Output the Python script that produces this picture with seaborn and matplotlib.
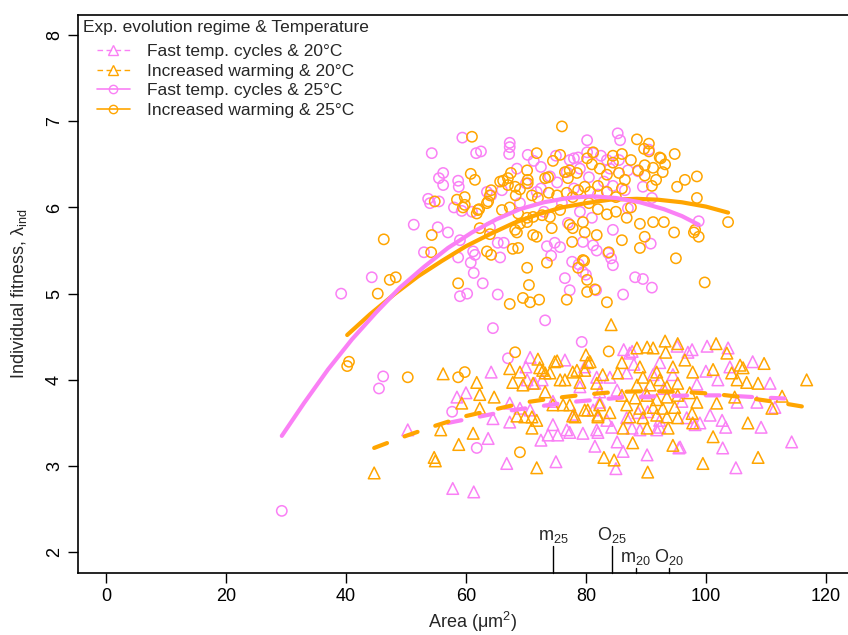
import numpy as np
import seaborn as sns
import matplotlib
matplotlib.use("Agg")
import matplotlib.pyplot as plt
from matplotlib.lines import Line2D
import matplotlib.transforms as mtransforms

# ---- data ----
ftc25_x = [29.3, 39.2, 44.3, 46.2, 45.5, 51.3, 53.0, 53.7, 54.0, 55.5, 54.3, 55.5, 56.2, 56.2, 58.7,
           58.8, 59.4, 58.0, 59.3, 61.0, 55.3, 57.0, 59.0, 58.7, 61.2, 61.5, 60.8, 61.3, 62.8, 59.0,
           60.2, 65.3, 64.5, 61.7, 62.5, 63.5, 64.2, 64.0, 65.3, 66.3, 65.7, 67.3, 67.3, 67.2, 67.0,
           57.7, 61.8, 70.3, 71.3, 72.5, 71.8, 73.2, 73.5, 74.2, 74.8, 75.7, 76.5, 77.3, 77.7, 78.8,
           79.5, 81.2, 81.8, 79.5, 80.0, 81.7, 79.3, 80.2, 80.2, 81.2, 77.3, 78.0, 78.7, 76.8, 75.2,
           85.3, 85.7, 82.5, 83.5, 84.0, 87.0, 88.7, 90.5, 89.5, 91.0, 87.0, 84.5, 83.7, 84.2, 84.5,
           90.8, 88.2, 89.5, 91.0, 86.2, 98.8, 70.0, 72.5, 74.0, 76.0, 78.0, 79.0, 80.5, 82.0, 83.0,
           84.5, 85.5, 86.5, 79.0, 81.0, 77.0, 73.0, 69.0, 66.0, 68.5, 75.0]
ftc25_y = [2.48, 5.00, 5.19, 4.04, 3.90, 5.80, 5.48, 6.10, 6.05, 6.07, 6.63, 6.34, 6.40, 6.26, 6.31,
           6.24, 6.81, 6.00, 5.96, 5.95, 5.77, 5.71, 5.62, 5.42, 5.49, 5.45, 5.36, 5.24, 5.12, 4.97,
           5.00, 4.99, 4.60, 6.63, 6.65, 6.18, 6.14, 5.77, 5.59, 5.59, 5.42, 6.75, 6.70, 6.62, 4.25,
           3.63, 3.21, 6.61, 6.54, 6.47, 6.18, 4.69, 5.55, 5.44, 5.59, 5.54, 5.18, 5.04, 5.37, 5.34,
           5.60, 5.56, 5.50, 5.25, 5.22, 5.04, 4.44, 6.78, 6.64, 6.63, 6.55, 6.57, 6.58, 6.41, 6.29,
           6.86, 6.78, 6.60, 6.55, 6.45, 6.43, 6.42, 6.67, 6.24, 6.11, 5.99, 5.74, 5.47, 5.41, 5.33,
           5.58, 5.19, 5.17, 5.07, 4.99, 5.84, 6.28, 6.22, 6.36, 6.05, 6.22, 6.45, 6.35, 6.15, 6.30,
           6.25, 6.55, 6.20, 5.95, 5.88, 5.82, 5.95, 6.05, 6.20, 6.45, 6.60]

iw25_x = [40.5, 40.2, 50.3, 59.8, 58.7, 68.2, 69.0, 83.8, 45.3, 47.3, 48.3, 46.3, 54.3, 54.2, 54.8,
          58.5, 59.8, 59.5, 61.8, 62.2, 61.0, 60.8, 61.5, 58.7, 62.3, 64.0, 63.5, 64.2, 64.2, 63.7,
          64.0, 59.8, 62.0, 63.5, 66.2, 67.0, 67.5, 65.7, 67.0, 68.2, 68.3, 69.0, 70.2, 70.3, 70.3,
          71.0, 72.0, 71.8, 73.2, 73.7, 73.8, 74.5, 75.2, 75.7, 76.0, 76.5, 77.3, 78.5, 77.0, 80.2,
          81.2, 76.8, 77.8, 78.7, 79.8, 80.7, 66.0, 67.3, 68.7, 70.2, 71.2, 69.0, 70.2, 72.7, 74.0,
          75.7, 74.3, 77.3, 77.8, 79.5, 79.8, 81.8, 68.2, 68.5, 71.2, 71.8, 77.7, 67.8, 68.7, 70.2,
          70.5, 73.5, 67.3, 69.5, 70.7, 72.2, 76.8, 78.7, 79.7, 80.2, 80.2, 81.5, 79.5, 88.5, 90.5,
          89.7, 90.5, 92.3, 92.5, 93.2, 92.8, 94.8, 91.2, 89.8, 88.7, 89.8, 91.7, 91.0, 95.2, 96.5,
          98.5, 98.5, 89.0, 91.2, 93.0, 94.7, 98.0, 98.2, 98.8, 103.7, 89.8, 86.0, 89.0, 86.8, 83.8,
          95.0, 83.5, 99.8, 81.0, 82.3, 83.5, 84.5, 85.5, 86.5, 82.0, 83.5, 85.0, 86.0, 80.5, 82.0,
          83.5, 85.0, 87.5, 84.5, 86.0, 87.5]
iw25_y = [4.21, 4.16, 4.03, 4.09, 4.03, 4.32, 3.16, 4.33, 5.00, 5.16, 5.19, 5.63, 5.68, 5.48, 6.07,
          6.09, 6.12, 6.00, 5.93, 5.98, 6.82, 6.39, 6.32, 5.12, 5.76, 5.69, 5.49, 5.45, 6.20, 6.07,
          6.14, 6.03, 5.97, 6.05, 6.31, 6.34, 6.40, 6.30, 6.26, 6.24, 6.14, 6.21, 6.43, 6.32, 6.28,
          6.14, 6.11, 6.63, 6.34, 6.35, 6.17, 6.54, 6.14, 6.61, 6.94, 6.41, 6.43, 6.40, 6.34, 6.57,
          6.64, 6.17, 6.12, 6.20, 6.24, 6.18, 5.97, 6.00, 5.93, 5.88, 5.89, 5.81, 5.83, 5.91, 5.89,
          5.97, 5.76, 5.80, 5.76, 5.83, 5.71, 5.68, 5.74, 5.71, 5.68, 5.66, 5.60, 5.52, 5.53, 5.30,
          5.10, 5.36, 4.88, 4.95, 4.90, 4.93, 4.93, 5.30, 5.38, 5.16, 5.02, 5.05, 5.39, 6.79, 6.74,
          6.68, 6.65, 6.58, 6.57, 6.50, 6.41, 6.62, 6.46, 6.49, 6.43, 6.37, 6.32, 6.25, 6.24, 6.32,
          6.36, 6.11, 5.81, 5.83, 5.83, 5.71, 5.71, 5.74, 5.66, 5.83, 5.66, 5.62, 5.53, 5.88, 5.48,
          5.41, 4.90, 5.13, 6.50, 6.45, 6.38, 6.52, 6.40, 6.32, 6.25, 6.18, 6.12, 6.22, 6.05, 5.98,
          5.92, 5.95, 6.00, 6.60, 6.62, 6.55]

ftc20_x = [50.3, 57.8, 61.3, 58.5, 64.2, 63.7, 66.8, 70.7, 70.0, 67.3, 67.3, 73.7, 74.5, 75.3, 70.2,
           71.5, 72.7, 69.0, 70.7, 86.3, 87.3, 95.2, 97.7, 100.2, 103.7, 107.8, 110.7, 114.3, 105.0,
           102.8, 102.7, 103.3, 100.7, 95.5, 90.2, 86.2, 85.2, 81.5, 76.5, 79.5, 77.3, 84.3, 81.8,
           89.0, 92.3, 99.0, 105.2, 108.5, 109.2, 111.5, 87.7, 92.3, 97.0, 79.8, 81.8, 84.0, 86.8,
           91.2, 94.5, 79.0, 82.3, 85.2, 88.7, 90.3, 92.3, 96.8, 82.3, 81.2, 83.5, 86.8, 76.8, 82.0,
           87.7, 91.8, 98.2, 95.7, 93.0, 96.0, 90.0, 88.0, 100.0, 102.0, 104.0, 98.5, 78.0, 74.5,
           64.5, 60.0, 72.5, 75.0, 85.0]
ftc20_y = [3.42, 2.74, 2.70, 3.80, 4.09, 3.32, 3.03, 4.26, 4.15, 3.73, 3.51, 3.36, 3.48, 3.36, 4.00,
           3.96, 4.00, 3.67, 3.65, 4.35, 4.31, 4.39, 4.35, 4.39, 4.37, 4.21, 3.96, 3.28, 2.98,
           3.21, 3.53, 3.45, 3.59, 3.21, 3.13, 3.17, 3.28, 3.23, 4.23, 3.38, 3.39, 3.45, 3.42,
           3.42, 3.45, 3.50, 3.74, 3.74, 3.45, 3.68, 4.33, 4.20, 4.32, 4.15, 4.03, 4.03, 4.08,
           4.06, 4.06, 3.92, 3.86, 3.88, 3.62, 3.63, 3.53, 3.56, 3.74, 3.65, 3.53, 3.56, 3.42, 3.39,
           3.44, 3.42, 3.48, 3.22, 3.90, 3.75, 3.85, 4.18, 4.10, 4.00, 4.15, 3.95, 3.60, 3.75,
           3.55, 3.85, 3.30, 3.05, 2.97]

iw20_x = [56.2, 61.8, 62.3, 59.3, 64.7, 67.3, 69.0, 67.8, 69.5, 71.2, 72.0, 74.8, 72.8, 74.0, 73.2,
          68.5, 69.8, 71.0, 71.8, 71.0, 55.8, 61.2, 58.8, 54.7, 54.9, 44.7, 71.8, 62.3, 84.2, 93.2,
          95.3, 93.3, 88.5, 90.2, 91.2, 101.7, 103.5, 80.0, 75.2, 109.7, 105.7, 116.8, 107.0, 108.7,
          101.2, 99.5, 94.5, 90.3, 83.0, 84.7, 87.8, 77.8, 97.8, 76.2, 93.7, 86.2, 111.0, 112.7,
          106.2, 104.3, 106.8, 108.7, 105.2, 104.8, 101.8, 98.5, 101.2, 80.7, 78.5, 82.8, 85.3, 86.0,
          89.0, 89.5, 91.8, 92.3, 94.5, 96.5, 97.8, 76.5, 79.0, 81.8, 88.5, 90.7, 93.5, 95.3, 86.0,
          88.2, 90.2, 91.8, 93.5, 95.3, 97.3, 86.8, 89.0, 91.2, 92.8, 94.8, 77.3, 80.3, 82.3, 87.3,
          89.5, 91.8, 93.5, 95.3, 78.2, 82.0, 84.0, 90.2, 97.7, 72.3, 73.2, 75.7, 77.8, 79.8, 80.3,
          74.5, 79.8, 82.0]
iw20_y = [4.07, 3.97, 3.83, 3.73, 3.80, 4.13, 4.09, 3.97, 3.94, 3.96, 4.24, 4.21, 4.11, 4.08, 3.86,
          3.58, 3.57, 3.57, 3.53, 3.44, 3.42, 3.38, 3.25, 3.10, 3.06, 2.92, 2.98, 3.67, 4.64, 4.45,
          4.42, 4.32, 4.37, 4.38, 4.37, 4.42, 4.31, 4.29, 4.22, 4.19, 4.17, 4.00, 3.50, 3.10,
          3.34, 3.03, 3.24, 2.93, 3.10, 3.07, 3.27, 3.58, 3.50, 3.71, 3.44, 3.44, 3.67, 3.81,
          4.14, 4.08, 3.97, 3.96, 4.00, 3.80, 3.73, 3.74, 4.12, 4.21, 4.11, 4.06, 4.08, 4.20,
          4.15, 4.03, 4.09, 4.00, 4.15, 4.23, 4.09, 4.00, 3.97, 3.96, 3.94, 3.94, 3.92, 3.96, 3.82,
          3.79, 3.82, 3.77, 3.80, 3.82, 3.85, 3.71, 3.67, 3.68, 3.67, 3.68, 3.71, 3.65, 3.71, 3.57,
          3.56, 3.59, 3.57, 3.56, 3.57, 3.57, 3.62, 3.44, 3.61, 4.14, 4.08, 4.00, 4.09, 4.11, 4.20,
          3.71, 3.65, 3.59]

# fitted curves as drawn in the reference
ftc25_fit_x = [29.3, 33, 37, 41, 45, 49, 53, 57, 61, 65, 69, 73, 77, 81, 85, 89, 93, 96, 98.8]
ftc25_fit_y = [3.35, 3.73, 4.12, 4.47, 4.78, 5.07, 5.31, 5.53, 5.71, 5.86, 5.98, 6.06, 6.11, 6.13,
               6.11, 6.06, 5.98, 5.90, 5.80]
iw25_fit_x = [40.2, 44, 48, 52, 56, 60, 64, 68, 72, 76, 80, 84, 88.5, 92, 96, 100, 103.7]
iw25_fit_y = [4.52, 4.76, 4.99, 5.20, 5.38, 5.55, 5.69, 5.82, 5.92, 6.00, 6.05, 6.09, 6.10, 6.09,
              6.06, 6.01, 5.94]
ftc20_fit_x = [57, 62, 67, 72, 77, 82, 87, 92, 98, 103, 108, 114.3]
ftc20_fit_y = [3.50, 3.57, 3.64, 3.69, 3.74, 3.77, 3.80, 3.81, 3.82, 3.82, 3.80, 3.78]
iw20_fit_x = [44.7, 50, 55, 60, 65, 70, 75, 80, 85, 91, 96, 101, 106, 111, 117]
iw20_fit_y = [3.21, 3.35, 3.47, 3.58, 3.66, 3.74, 3.79, 3.83, 3.86, 3.87, 3.86, 3.84, 3.80, 3.75, 3.68]

# mean (m) and optimum (O) areas per temperature
marker_labels = ["m$_{25}$", "O$_{25}$", "m$_{20}$", "O$_{20}$"]
marker_area = [74.5, 84.3, 88.3, 93.8]

legend_labels = ["Fast temp. cycles & 20\u00b0C", "Increased warming & 20\u00b0C",
                 "Fast temp. cycles & 25\u00b0C", "Increased warming & 25\u00b0C"]

PINK = "#FA80F5"
ORANGE = "orange"

sns.set_style("ticks")
plt.rcParams["font.family"] = ["Liberation Sans", "DejaVu Sans"]
plt.rcParams["mathtext.fontset"] = "custom"
plt.rcParams["mathtext.rm"] = "Liberation Sans"
plt.rcParams["mathtext.it"] = "Liberation Sans:italic"

fig = plt.figure(figsize=(8.48, 6.35), dpi=100)
ax = fig.add_axes([0.092, 0.0976, 0.93, 0.8787])

# points
sns.scatterplot(x=ftc25_x, y=ftc25_y, ax=ax, marker="o", s=55, facecolor="none",
                edgecolor=PINK, linewidth=1.1)
sns.scatterplot(x=iw25_x, y=iw25_y, ax=ax, marker="o", s=55, facecolor="none",
                edgecolor=ORANGE, linewidth=1.1)
sns.scatterplot(x=ftc20_x, y=ftc20_y, ax=ax, marker="^", s=70, facecolor="none",
                edgecolor=PINK, linewidth=1.1)
sns.scatterplot(x=iw20_x, y=iw20_y, ax=ax, marker="^", s=70, facecolor="none",
                edgecolor=ORANGE, linewidth=1.1)

# fitted curves
dash = (0, (3.3, 4.5))
sns.lineplot(x=iw25_fit_x, y=iw25_fit_y, ax=ax, color=ORANGE, linewidth=3,
             estimator=None, sort=False, solid_capstyle="round")
sns.lineplot(x=ftc25_fit_x, y=ftc25_fit_y, ax=ax, color=PINK, linewidth=3,
             estimator=None, sort=False, solid_capstyle="round")
sns.lineplot(x=ftc20_fit_x, y=ftc20_fit_y, ax=ax, color=PINK, linewidth=3, linestyle=dash,
             estimator=None, sort=False, dash_capstyle="round")
sns.lineplot(x=iw20_fit_x, y=iw20_fit_y, ax=ax, color=ORANGE, linewidth=3, linestyle=dash,
             estimator=None, sort=False, dash_capstyle="round")

ax.set_xlim(-4.67, 126.8)
ax.set_ylim(1.759, 8.232)
ax.set_xticks([0, 20, 40, 60, 80, 100, 120])
ax.set_yticks([2, 3, 4, 5, 6, 7, 8])
ax.tick_params(axis="both", direction="out", length=7, width=1, colors="black", labelsize=13)
ax.tick_params(axis="y", pad=10)
for lab in ax.get_yticklabels():
    lab.set_rotation(90)
    lab.set_va("center")
    lab.set_ha("center")
for sp in ax.spines.values():
    sp.set_color("black")
    sp.set_linewidth(1.2)

ax.set_xlabel("Area (\u03bcm$^{2}$)", fontsize=13, labelpad=4)
ax.set_ylabel("Individual fitness, \u03bb$_{\\mathrm{ind}}$", fontsize=13, labelpad=12)

# m / O markers on the x axis
trans = mtransforms.blended_transform_factory(ax.transData, ax.transAxes)
tops = [0.048, 0.048, 0.009, 0.009]
for lab, xa, top in zip(marker_labels, marker_area, tops):
    ax.plot([xa, xa], [0, top], transform=trans, color="black", lw=1, clip_on=False)
    ax.text(xa, top + 0.002, lab, transform=trans, ha="center", va="bottom", fontsize=13)

# legend
ax.text(0.0063, 0.991, "Exp. evolution regime & Temperature", transform=ax.transAxes,
        ha="left", va="top", fontsize=12.5)
handles = [
    Line2D([], [], color=PINK, lw=1, ls=(0, (4, 2.5)), marker="^", mfc="none", ms=7),
    Line2D([], [], color=ORANGE, lw=1, ls=(0, (4, 2.5)), marker="^", mfc="none", ms=7),
    Line2D([], [], color=PINK, lw=1.2, marker="o", mfc="none", ms=6),
    Line2D([], [], color=ORANGE, lw=1.2, marker="o", mfc="none", ms=6),
]
ax.legend(handles, legend_labels, loc="upper left", bbox_to_anchor=(0.024, 0.948),
          frameon=False, fontsize=12.5, handlelength=1.9, handletextpad=1.0,
          labelspacing=0.25, borderaxespad=0, borderpad=0)

fig.savefig("out.png", dpi=100)
